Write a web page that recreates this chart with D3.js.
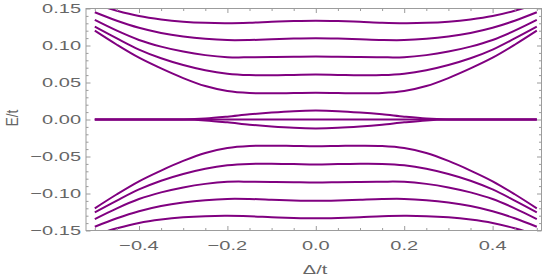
<!DOCTYPE html>
<html>
<head>
<meta charset="utf-8">
<script src="https://cdn.jsdelivr.net/npm/d3@7"></script>
<style>
  body { margin: 0; background: white; }
  svg { display: block; }
</style>
</head>
<body>
<div id="chart"></div>
<script>
// sample points along Delta/t
var deltas = [-0.5, -0.45, -0.4, -0.35, -0.3, -0.25, -0.2, -0.15, -0.1, -0.05, 0,
              0.05, 0.1, 0.15, 0.2, 0.25, 0.3, 0.35, 0.4, 0.45, 0.5];

// positive levels E/t
var levelUp1 = [0.1200, 0.1010, 0.0835, 0.0690, 0.0560, 0.0452, 0.0385, 0.0358, 0.0354, 0.0358, 0.0362,
                0.0358, 0.0354, 0.0358, 0.0385, 0.0452, 0.0560, 0.0690, 0.0835, 0.1010, 0.1200];
var levelUp2 = [0.1254, 0.1095, 0.0945, 0.0827, 0.0736, 0.0665, 0.0619, 0.0600, 0.0598, 0.0603, 0.0608,
                0.0603, 0.0598, 0.0600, 0.0619, 0.0665, 0.0736, 0.0827, 0.0945, 0.1095, 0.1254];
var levelUp3 = [0.1345, 0.1200, 0.1075, 0.0985, 0.0918, 0.0870, 0.0842, 0.0840, 0.0843, 0.0848, 0.0852,
                0.0848, 0.0843, 0.0840, 0.0842, 0.0870, 0.0918, 0.0985, 0.1075, 0.1200, 0.1345];
var levelUp4 = [0.1449, 0.1335, 0.1240, 0.1170, 0.1122, 0.1090, 0.1073, 0.1074, 0.1083, 0.1093, 0.1098,
                0.1093, 0.1083, 0.1074, 0.1073, 0.1090, 0.1122, 0.1170, 0.1240, 0.1335, 0.1449];
var levelUp5 = [0.1560, 0.1470, 0.1398, 0.1352, 0.1322, 0.1306, 0.1302, 0.1308, 0.1320, 0.1330, 0.1335,
                0.1330, 0.1320, 0.1308, 0.1302, 0.1306, 0.1322, 0.1352, 0.1398, 0.1470, 0.1560];

// negative levels
var levelDown1 = [-0.1200, -0.1010, -0.0835, -0.0690, -0.0560, -0.0452, -0.0385, -0.0358, -0.0354, -0.0358, -0.0362,
                  -0.0358, -0.0354, -0.0358, -0.0385, -0.0452, -0.0560, -0.0690, -0.0835, -0.1010, -0.1200];
var levelDown2 = [-0.1254, -0.1095, -0.0945, -0.0827, -0.0736, -0.0665, -0.0619, -0.0600, -0.0598, -0.0603, -0.0608,
                  -0.0603, -0.0598, -0.0600, -0.0619, -0.0665, -0.0736, -0.0827, -0.0945, -0.1095, -0.1254];
var levelDown3 = [-0.1345, -0.1200, -0.1075, -0.0985, -0.0918, -0.0870, -0.0842, -0.0840, -0.0843, -0.0848, -0.0852,
                  -0.0848, -0.0843, -0.0840, -0.0842, -0.0870, -0.0918, -0.0985, -0.1075, -0.1200, -0.1345];
var levelDown4 = [-0.1449, -0.1335, -0.1240, -0.1170, -0.1122, -0.1090, -0.1073, -0.1074, -0.1083, -0.1093, -0.1098,
                  -0.1093, -0.1083, -0.1074, -0.1073, -0.1090, -0.1122, -0.1170, -0.1240, -0.1335, -0.1449];
var levelDown5 = [-0.1560, -0.1470, -0.1398, -0.1352, -0.1322, -0.1306, -0.1302, -0.1308, -0.1320, -0.1330, -0.1335,
                  -0.1330, -0.1320, -0.1308, -0.1302, -0.1306, -0.1322, -0.1352, -0.1398, -0.1470, -0.1560];

// states near zero
var innerUp = [0, 0, 0, 0, 0, 0.0012, 0.0038, 0.0070, 0.0095, 0.0113, 0.0120,
               0.0113, 0.0095, 0.0070, 0.0038, 0.0012, 0, 0, 0, 0, 0];
var innerDown = [0, 0, 0, 0, 0, -0.0012, -0.0038, -0.0070, -0.0095, -0.0113, -0.0120,
                 -0.0113, -0.0095, -0.0070, -0.0038, -0.0012, 0, 0, 0, 0, 0];
var zeroLevel = [0, 0, 0, 0, 0, 0, 0, 0, 0, 0, 0, 0, 0, 0, 0, 0, 0, 0, 0, 0, 0];

var xTicks = [-0.4, -0.2, 0.0, 0.2, 0.4];
var xMinorTicks = [-0.5, -0.45, -0.35, -0.3, -0.25, -0.15, -0.1, -0.05, 0.05, 0.1, 0.15, 0.25, 0.3, 0.35, 0.45, 0.5];
var yTicks = [-0.15, -0.10, -0.05, 0.00, 0.05, 0.10, 0.15];
var yMinorTicks = [-0.14, -0.13, -0.12, -0.11, -0.09, -0.08, -0.07, -0.06, -0.04, -0.03, -0.02, -0.01,
                   0.01, 0.02, 0.03, 0.04, 0.06, 0.07, 0.08, 0.09, 0.11, 0.12, 0.13, 0.14];
var xTitle = "Δ/t";
var yTitle = "E/t";

var series = [levelUp1, levelUp2, levelUp3, levelUp4, levelUp5,
              levelDown1, levelDown2, levelDown3, levelDown4, levelDown5,
              innerUp, innerDown, zeroLevel];

var self = {};
self.width = 548;
self.height = 277;
self.frame = { left: 86, right: 541.5, top: 8.5, bottom: 230.5 };
self.lineColor = "#800080";
self.frameColor = "#9c9c9c";
self.textColor = "#666666";
self.font = "'Liberation Sans', Arial, sans-serif";
self.stretch = 1.48;

self.x = d3.scaleLinear().domain([-0.5, 0.5]).range([94.8, 536.8]);
self.y = d3.scaleLinear().domain([-0.15, 0.15]).range([self.frame.bottom, self.frame.top]);

self.svg = d3.select("#chart").append("svg")
  .attr("width", self.width)
  .attr("height", self.height);

self.svg.append("clipPath")
  .attr("id", "plotClip")
  .append("rect")
  .attr("x", self.frame.left)
  .attr("y", self.frame.top)
  .attr("width", self.frame.right - self.frame.left)
  .attr("height", self.frame.bottom - self.frame.top);

// curves
var line = d3.line()
  .x(function(d, i) { return self.x(deltas[i]); })
  .y(function(d) { return self.y(d); })
  .curve(d3.curveCatmullRom.alpha(0.5));

self.svg.append("g")
  .attr("clip-path", "url(#plotClip)")
  .selectAll(".level")
  .data(series)
  .enter()
  .append("path")
  .attr("class", "level")
  .attr("fill", "none")
  .attr("stroke", self.lineColor)
  .attr("stroke-width", 2)
  .attr("d", line);

// frame
self.svg.append("rect")
  .attr("x", self.frame.left)
  .attr("y", self.frame.top)
  .attr("width", self.frame.right - self.frame.left)
  .attr("height", self.frame.bottom - self.frame.top)
  .attr("fill", "none")
  .attr("stroke", self.frameColor)
  .attr("stroke-width", 1);

// inward ticks on all four sides
function addTicks(axisFn, scale, values, size, translate) {
  var g = self.svg.append("g")
    .attr("transform", translate)
    .call(axisFn(scale).tickValues(values).tickSize(size).tickFormat(""));
  g.select(".domain").remove();
  g.selectAll("line").attr("stroke", self.frameColor);
}
addTicks(d3.axisBottom, self.x, xTicks, -4.5, "translate(0," + self.frame.bottom + ")");
addTicks(d3.axisBottom, self.x, xMinorTicks, -2.5, "translate(0," + self.frame.bottom + ")");
addTicks(d3.axisTop, self.x, xTicks, -4.5, "translate(0," + self.frame.top + ")");
addTicks(d3.axisTop, self.x, xMinorTicks, -2.5, "translate(0," + self.frame.top + ")");
addTicks(d3.axisLeft, self.y, yTicks, -4.5, "translate(" + self.frame.left + ",0)");
addTicks(d3.axisLeft, self.y, yMinorTicks, -2.5, "translate(" + self.frame.left + ",0)");
addTicks(d3.axisRight, self.y, yTicks, -4.5, "translate(" + self.frame.right + ",0)");
addTicks(d3.axisRight, self.y, yMinorTicks, -2.5, "translate(" + self.frame.right + ",0)");

// tick labels (text is wider than tall in the reference)
var fmtX = d3.format(".1f");
var fmtY = d3.format(".2f");

self.svg.selectAll(".xlab")
  .data(xTicks)
  .enter()
  .append("text")
  .attr("class", "xlab")
  .attr("transform", function(d) {
    return "translate(" + self.x(d) + ",250) scale(" + self.stretch + ",1)";
  })
  .attr("text-anchor", "middle")
  .attr("font-family", self.font)
  .attr("font-size", 13.5)
  .attr("fill", self.textColor)
  .text(fmtX);

self.svg.selectAll(".ylab")
  .data(yTicks)
  .enter()
  .append("text")
  .attr("class", "ylab")
  .attr("transform", function(d) {
    return "translate(81," + (self.y(d) + 4.8) + ") scale(" + self.stretch + ",1)";
  })
  .attr("text-anchor", "end")
  .attr("font-family", self.font)
  .attr("font-size", 13.5)
  .attr("fill", self.textColor)
  .text(fmtY);

// axis titles
self.svg.append("text")
  .attr("transform", "translate(315,274) scale(" + self.stretch + ",1)")
  .attr("text-anchor", "middle")
  .attr("font-family", self.font)
  .attr("font-size", 13.5)
  .attr("fill", self.textColor)
  .text(xTitle);

self.svg.append("text")
  .attr("transform", "translate(17.5,118) rotate(-90) scale(1,1.2)")
  .attr("text-anchor", "middle")
  .attr("font-family", self.font)
  .attr("font-size", 13.5)
  .attr("fill", self.textColor)
  .text(yTitle);
</script>
</body>
</html>
